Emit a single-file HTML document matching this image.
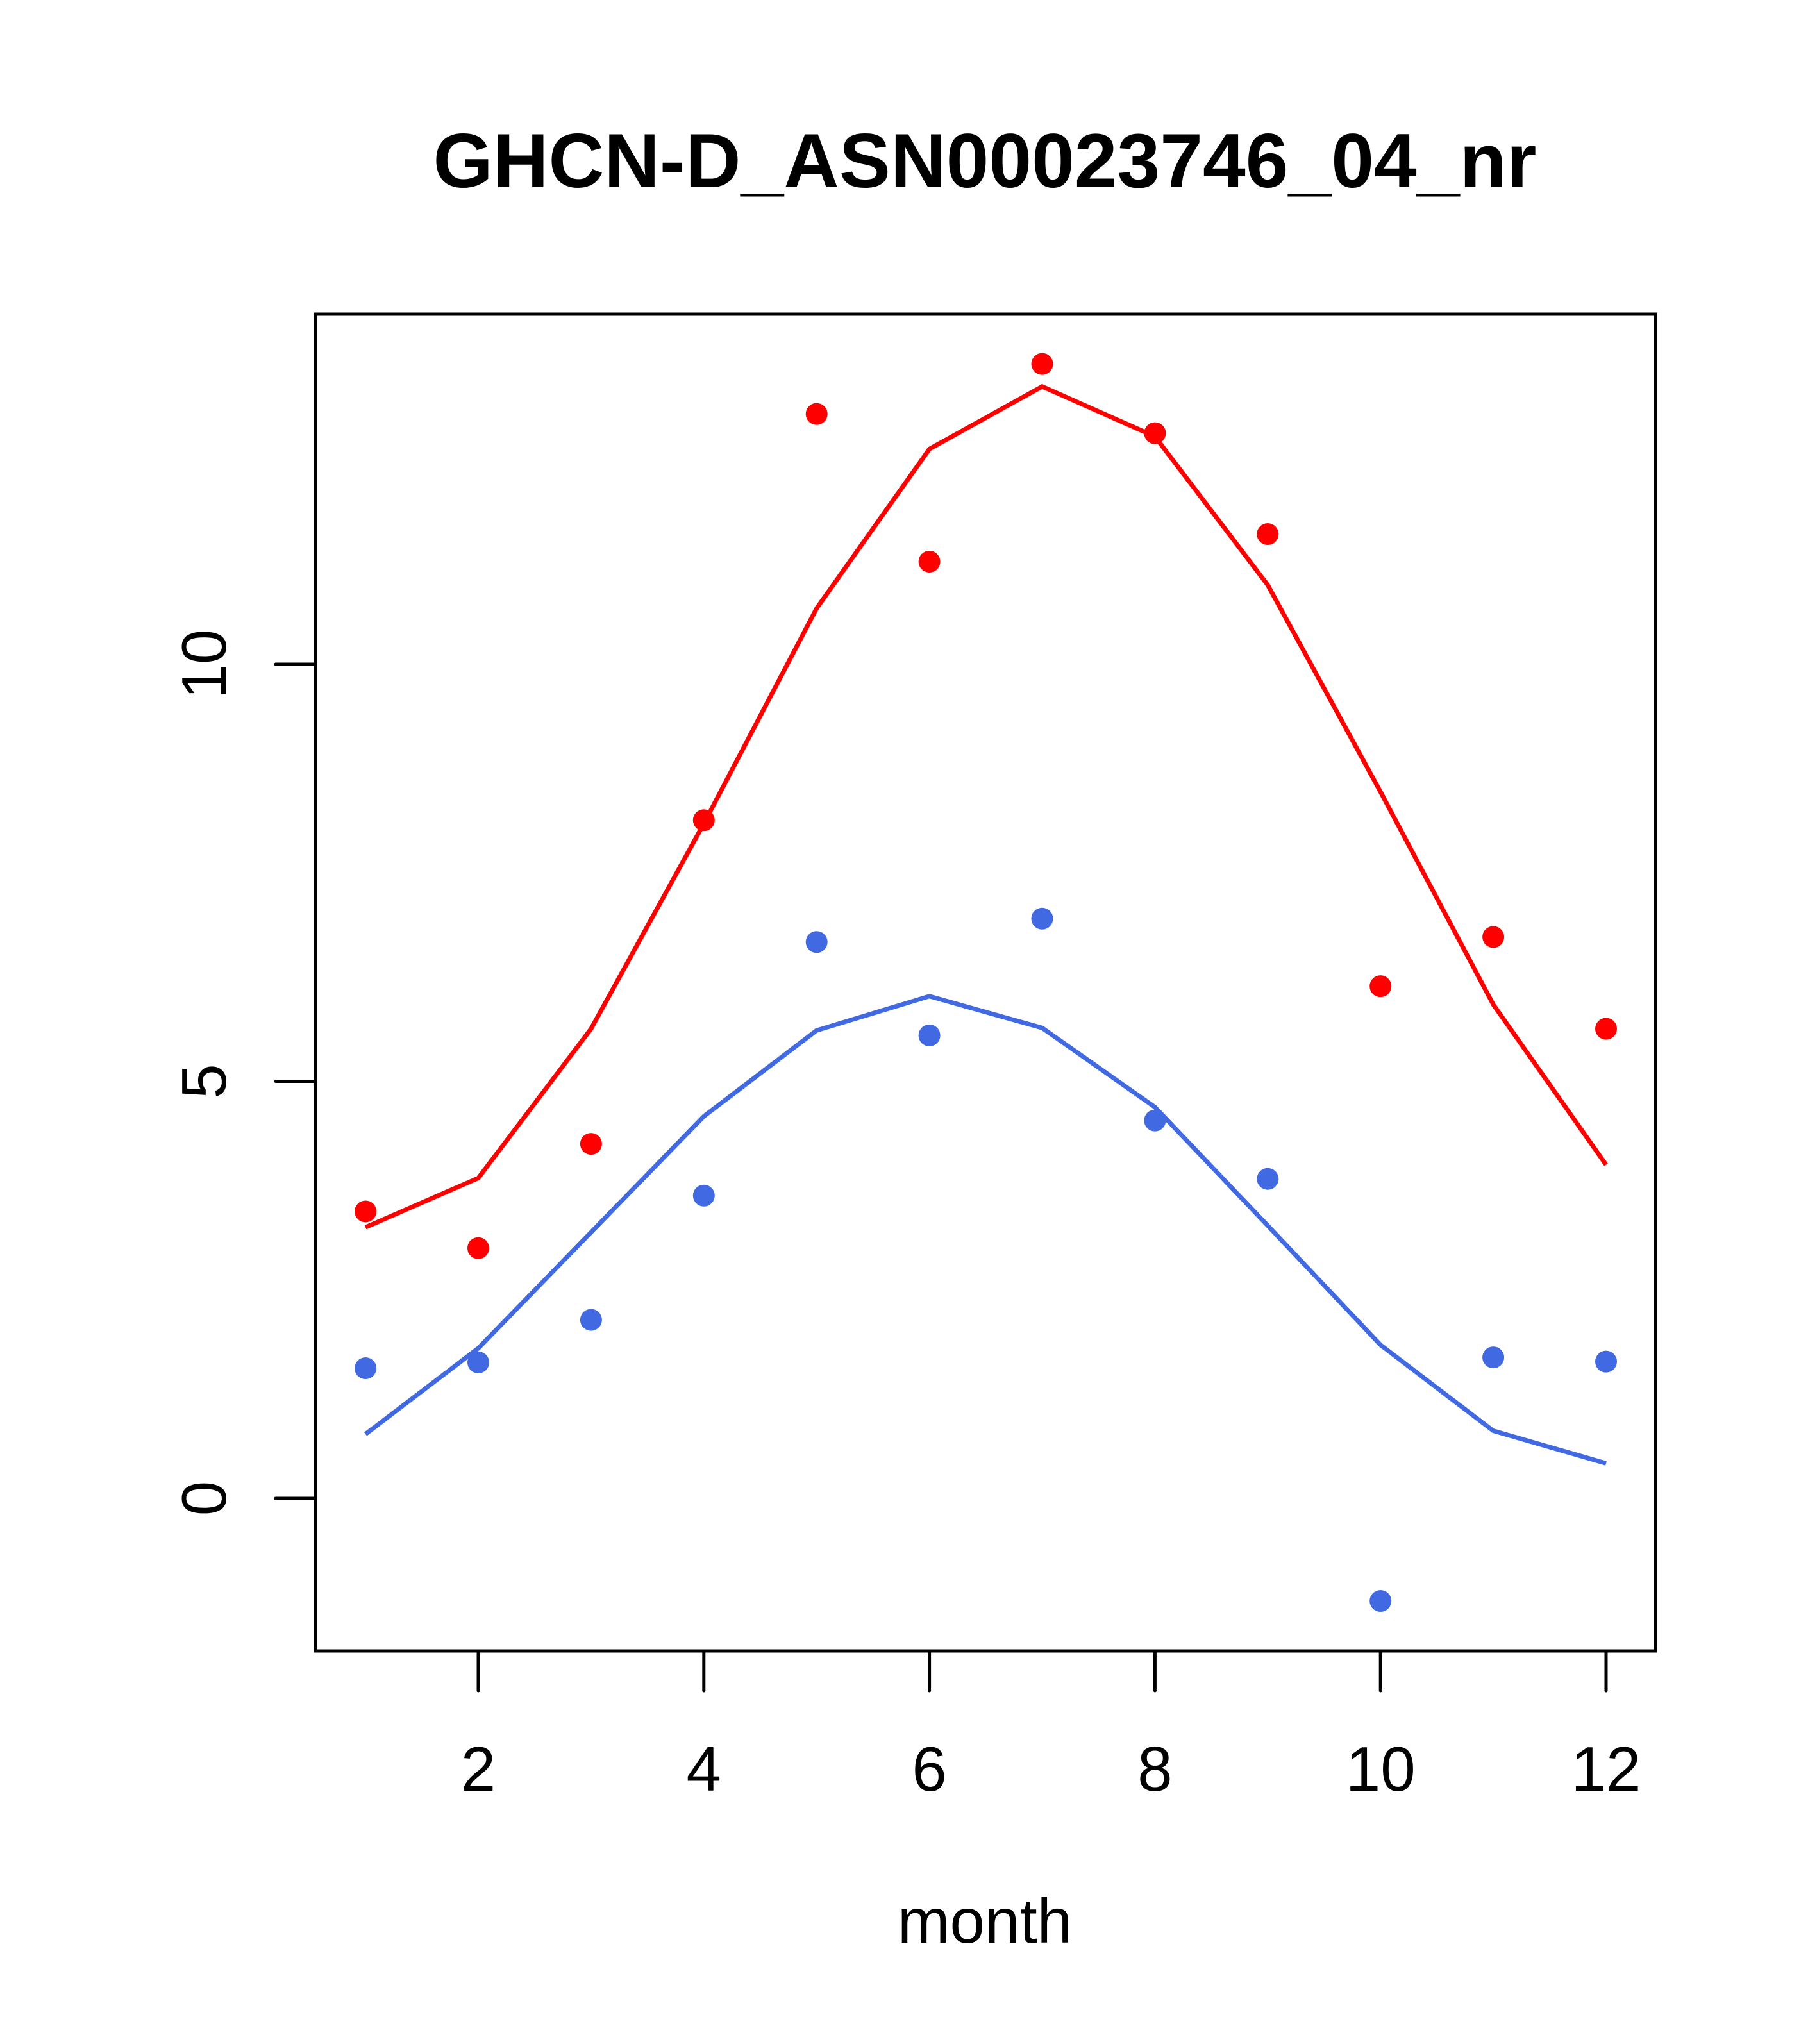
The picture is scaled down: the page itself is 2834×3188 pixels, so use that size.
<!DOCTYPE html>
<html><head><meta charset="utf-8"><style>html,body{margin:0;padding:0;background:#fff}svg{display:block}</style></head>
<body>
<svg id="chart" width="2834" height="3188" xmlns="http://www.w3.org/2000/svg" font-family="Liberation Sans, Arial, sans-serif">
<rect width="2834" height="3188" fill="#fff"/>
<text x="1536" y="292" font-size="120" font-weight="bold" text-anchor="middle">GHCN-D_ASN00023746_04_nr</text>
<text x="1536" y="3030" font-size="98" text-anchor="middle">month</text>
<rect x="492" y="490" width="2090" height="2085" fill="none" stroke="#000" stroke-width="5"/>
<g id="axes"></g>
<g id="series"></g>
</svg>
<script>
const months=[1,2,3,4,5,6,7,8,9,10,11,12];
const xTicks=[2,4,6,8,10,12];
const yTicks=[0,5,10];
const redPoints=[3.44,3.0,4.25,8.13,13.0,11.23,13.6,12.77,11.56,6.14,6.73,5.63];
const redLine=[3.25,3.84,5.63,8.09,10.67,12.58,13.33,12.73,10.95,8.47,5.92,4.0];
const bluePoints=[1.56,1.63,2.14,3.63,6.67,5.55,6.95,4.53,3.83,-1.23,1.69,1.64];
const blueLine=[0.77,1.8,3.19,4.58,5.61,6.02,5.64,4.69,3.27,1.84,0.81,0.42];

const NS='http://www.w3.org/2000/svg';
function xs(m){return 746+(m-2)*175.9;}
function ys(v){return 2337-v*130.1;}
const axes=document.getElementById('axes');
const ser=document.getElementById('series');
function mk(tag,attrs,parent){const e=document.createElementNS(NS,tag);for(const k in attrs)e.setAttribute(k,attrs[k]);parent.appendChild(e);return e;}

xTicks.forEach(t=>{
  const l=mk('line',{x1:xs(t),x2:xs(t),y1:2575,y2:2637,stroke:'#000','stroke-width':5,'stroke-linecap':'round'},axes);
  
  
  const tx=mk('text',{x:xs(t),y:2793,'font-size':98,'text-anchor':'middle'},axes);
  tx.textContent=t;
  
  
});
yTicks.forEach(t=>{
  const y=ys(t);
  const l=mk('line',{x1:430,x2:492,y1:y,y2:y,stroke:'#000','stroke-width':5,'stroke-linecap':'round'},axes);
  
  
  const tx=mk('text',{x:0,y:0,'font-size':98,'text-anchor':'middle',transform:'translate(352,'+y+') rotate(-90)'},axes);
  tx.textContent=t;
  
  
});
function drawLine(vals,color,name){
  const p=mk('polyline',{points:vals.map((v,i)=>xs(months[i])+','+ys(v)).join(' '),fill:'none',stroke:color,'stroke-width':7},ser);
  
  
}
function drawPts(vals,color,name){
  vals.forEach((v,i)=>{
    const c=mk('circle',{cx:xs(months[i]),cy:ys(v),r:17,fill:color},ser);
    
    
  });
}
drawLine(redLine,'#FF0000','red-line');
drawLine(blueLine,'#4169E1','blue-line');
drawPts(redPoints,'#FF0000','red-point');
drawPts(bluePoints,'#4169E1','blue-point');
</script>
</body></html>
